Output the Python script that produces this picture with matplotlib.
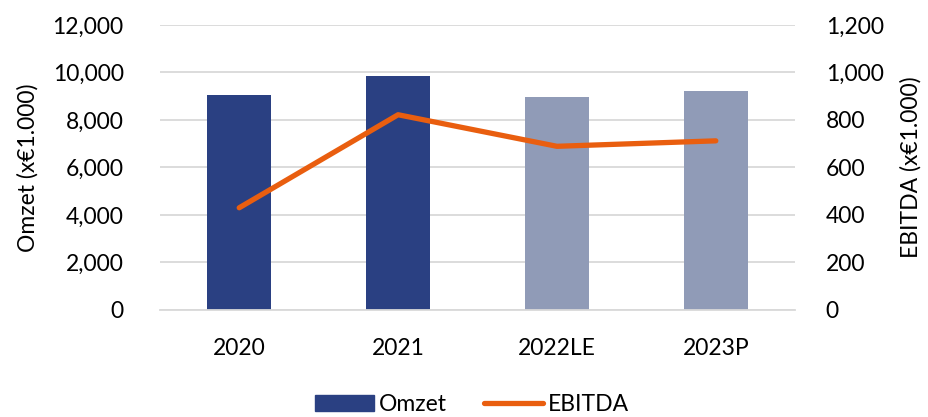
import matplotlib
matplotlib.use("Agg")
import matplotlib.pyplot as plt
from matplotlib.patches import Patch
from matplotlib.lines import Line2D
from matplotlib.ticker import FuncFormatter

plt.rcParams['font.family'] = ['Lato', 'DejaVu Sans']

categories = ["2020", "2021", "2022LE", "2023P"]
omzet = [9050, 9870, 8980, 9240]
ebitda = [430, 822, 689, 712]
bar_colors = ["#2A4082", "#2A4082", "#909BB7", "#909BB7"]

FS = 16.5

fig = plt.figure(figsize=(9.29, 4.17), dpi=100)
ax = fig.add_axes([0.172, 0.257, 0.684, 0.683])
ax2 = ax.twinx()

x = list(range(len(categories)))
ax.bar(x, omzet, width=0.4, color=bar_colors, zorder=2)
ax2.plot(x, ebitda, color="#E95E0F", lw=3.8, solid_capstyle='round', solid_joinstyle='round', zorder=3)

ax.set_xlim(-0.5, len(categories) - 0.5)
ax.set_ylim(0, 12000)
ax2.set_ylim(0, 1200)
ax.set_yticks(range(0, 12001, 2000))
ax2.set_yticks(range(0, 1201, 200))
fmt = FuncFormatter(lambda v, p: f"{int(v):,}")
ax.yaxis.set_major_formatter(fmt)
ax2.yaxis.set_major_formatter(fmt)
ax.set_xticks(x)
ax.set_xticklabels(categories)

ax.grid(axis='y', color="#D9D9D9", lw=1.3, zorder=0)
ax.set_axisbelow(True)
for a in (ax, ax2):
    for s in a.spines.values():
        s.set_visible(False)
    a.tick_params(length=0, labelsize=FS, colors="black")
ax.spines['bottom'].set_visible(True)
ax.spines['bottom'].set_color("#D9D9D9")
ax.spines['bottom'].set_linewidth(1.3)
ax.tick_params(axis='x', pad=20)
ax.tick_params(axis='y', pad=26)
ax2.tick_params(axis='y', pad=22)

ax.set_ylabel("Omzet (x€1.000)", fontsize=FS, labelpad=10)
ax2.set_ylabel("EBITDA (x€1.000)", fontsize=FS, labelpad=12)

handles = [Patch(color="#2A4082", label="Omzet"),
           Line2D([0], [0], color="#E95E0F", lw=3.8, solid_capstyle='round', label="EBITDA")]
fig.legend(handles=handles, loc='lower center', bbox_to_anchor=(0.508, -0.045), ncol=2,
           frameon=False, fontsize=FS, handlelength=2.6, columnspacing=1.6, handletextpad=0.2)

fig.savefig("out.png", dpi=100)
